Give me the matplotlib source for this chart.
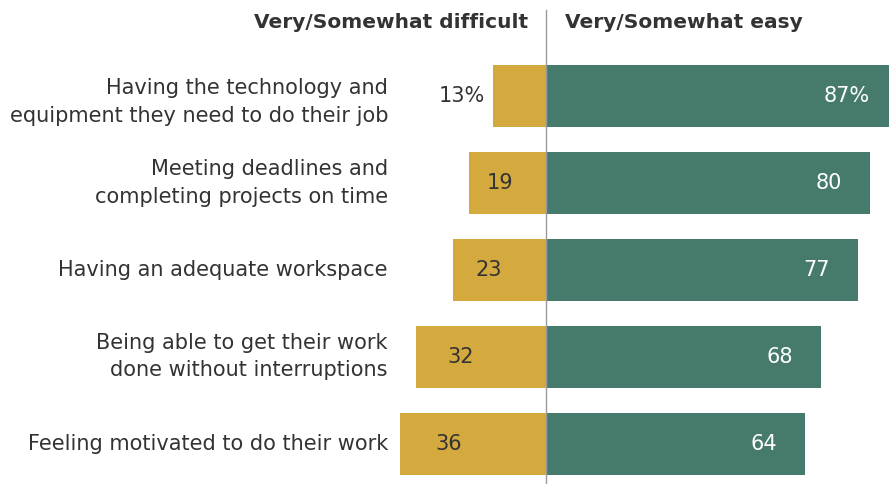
import matplotlib
matplotlib.use("Agg")
import matplotlib.pyplot as plt

categories = [
    "Having the technology and\nequipment they need to do their job",
    "Meeting deadlines and\ncompleting projects on time",
    "Having an adequate workspace",
    "Being able to get their work\ndone without interruptions",
    "Feeling motivated to do their work",
]
difficult = [13, 19, 23, 32, 36]
easy = [87, 80, 77, 68, 64]
difficult_labels = ["13%", "19", "23", "32", "36"]
easy_labels = ["87%", "80", "77", "68", "64"]
headers = ["Very/Somewhat difficult", "Very/Somewhat easy"]

GOLD = "#D4A93E"
GREEN = "#457A6C"
TEXT = "#333333"

plt.rcParams['font.family'] = ['DejaVu Sans']

W, H = 889, 484
fig = plt.figure(figsize=(W / 100, H / 100), dpi=100)
ax = fig.add_axes([0, 0, 1, 1])

scale = 4.05      # px per percentage point
center_px = 546
ax.set_xlim(-center_px / scale, (W - center_px) / scale)
spacing = 86.9
first_px = 96
ax.set_ylim((H - first_px) / spacing, -first_px / spacing)
ax.axis("off")

ys = list(range(len(categories)))
bh = 62 / spacing
ax.barh(ys, [-d for d in difficult], height=bh, color=GOLD, zorder=2)
ax.barh(ys, easy, height=bh, color=GREEN, zorder=2)

ax.axvline(0, ymin=0, ymax=1 - 10 / H, color="#9a9a9a", lw=1, zorder=3)

FS = 15
label_x = (388 - center_px) / scale
for y, cat, d, e, dl, el in zip(ys, categories, difficult, easy, difficult_labels, easy_labels):
    dy = 6 / spacing if y == 0 else 0
    ax.text(label_x, y + dy, cat, ha="right", va="center", fontsize=FS,
            color=TEXT, linespacing=1.47)
    if d < 15:
        ax.text(-d - 2.2, y, dl, ha="right", va="center", fontsize=FS, color=TEXT)
    else:
        ax.text(-d + 3 + 0.25 * d, y, dl, ha="center", va="center", fontsize=FS, color=TEXT)
    ax.text(e - 7.0, y, el, ha="right", va="center", fontsize=FS, color="white")

head_y = (21 - first_px) / spacing
ax.text(-18 / scale, head_y, headers[0], ha="right", va="center_baseline", fontsize=14.5,
        fontweight="bold", color=TEXT)
ax.text(19 / scale, head_y, headers[1], ha="left", va="center_baseline", fontsize=14.5,
        fontweight="bold", color=TEXT)

fig.savefig("out.png", dpi=100, facecolor="white")
